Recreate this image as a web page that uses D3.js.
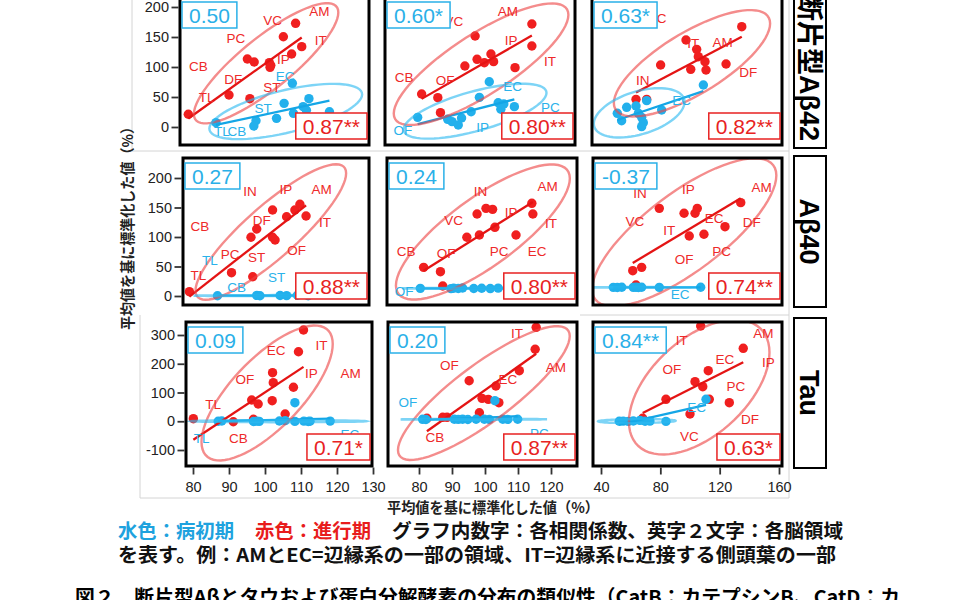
<!DOCTYPE html>
<html><head><meta charset="utf-8">
<script src="https://cdn.jsdelivr.net/npm/d3@7"></script>
<style>body{margin:0;background:#fff;} svg{display:block;}</style>
</head><body>
<script>
// ===================== DATA =====================
const rowNames = ["断片型Aβ42", "Aβ40", "Tau"];
const yTicks = [[0,50,100,150,200],[0,50,100,150,200],[-100,0,100,200,300]];
const xTicks = [[80,90,100,110,120,130],[80,90,100,110,120],[40,80,120,160]];
const xDomains = [[80,130],[80,120],[40,160]];
const yDomains = [[0,200],[0,200],[-100,300]];
// correlation coefficients (row-major): early = 病初期 (blue), late = 進行期 (red)
const corrEarly = ["0.50","0.60*","0.63*","0.27","0.24","-0.37","0.09","0.20","0.84**"];
const corrLate  = ["0.87**","0.80**","0.82**","0.88**","0.80**","0.74**","0.71*","0.87**","0.63*"];

// ---- Row 1: 断片型Aβ42 ----
const r1c1Late = [[78.7,21.2],[90.0,53.3],[95.8,47.2],[95.1,113.3],[97.0,108.3],[101.2,107.2],[101.4,99.4],[101.6,103],[105.1,150.5],[107.4,121.7],[108.5,172.8],[110.2,133.9]];
const r1c1LateLab = [["AM",115.1,192],["VC",102.1,177],["PC",91.9,146.7],["IT",115.5,145],["CB",81.5,100.5],["DF",91.2,80],["IP",105.1,111.7],["ST",101.9,66],["TL",83.8,48.9]];
const r1c1Early = [[86.4,7.2],[97.5,10.5],[96.9,1.7],[103.2,14.4],[105.3,39.4],[107.6,72.8],[107.9,22.8],[110.6,33.9],[112.2,47.2],[111.5,28],[117.9,25.5]];
const r1c1EarlyLab = [["EC",105.6,83.9],["ST",99.5,31.1],["TL",88.0,-7.8],["CB",92.2,-8.3]];

const r1c2Late = [[80.8,55],[85.7,48.9],[86.5,23.9],[93.9,101.7],[97.0,151.7],[97.6,112.8],[99.8,107.2],[101.8,121.7],[102.6,108.9],[109.1,98.9],[114.2,135],[114.2,171.7]];
const r1c2LateLab = [["AM",106.9,192.2],["IP",107.9,145],["IT",119.7,108.9],["CB",75.5,82.2],["OF",87.9,76.7],["VC",90.6,175.5]];
const r1c2Early = [[79.6,16.1],[88.7,12.8],[90.0,8.9],[91.9,3.3],[92.9,15],[95.8,25.5],[98.3,49.4],[101.3,75.5],[104.0,40.5],[104.8,29.5],[105.7,38.3],[108.9,33.9]];
const r1c2EarlyLab = [["OF",75.1,-6.2],["IP",99.3,-0.5],["EC",108.4,68.3],["PC",119.8,32.8]];

const r1c3Late = [[63.6,46.1],[70.8,46.1],[80.2,103.3],[97.3,145],[104.5,129.4],[105.6,117.2],[100.5,96.1],[110.1,108.9],[110.8,95],[124.3,105],[134.9,167.2]];
const r1c3LateLab = [["VC",77.8,181],["IT",102.2,139.5],["AM",122,140.5],["IN",68.1,78.3],["DF",139.3,90.5]];
const r1c3Early = [[51.0,22.8],[53.9,10.5],[57.3,32.8],[63.6,35],[65.2,22.8],[70.8,43.9],[67.4,16.1],[68.5,7.2],[67.4,0.6],[80.9,28.3],[109,70]];
const r1c3EarlyLab = [["EC",94.4,43.9]];

// ---- Row 2: Aβ40 ----
const r2c1Late = [[79.0,7.3],[90.7,39.5],[96.6,32.7],[96.1,99.5],[97.7,113.6],[102.1,145.8],[102.1,99.5],[102.8,94.9],[106.0,134.4],[108.3,145.8],[109.7,155.4],[111.4,135.6]];
const r2c1LateLab = [["IN",95.8,176.8],["IP",105.8,180.8],["AM",115.7,180.8],["CB",81.9,117.5],["DF",99.1,128.8],["IT",116.7,124.3],["PC",90.3,69.5],["ST",97.7,65.5],["OF",108.8,76.8],["TL",81.5,33.9]];
const r2c1Early = [[86.8,0.5],[97.7,1.0],[98.6,0.4],[104.2,0.9],[106.0,0.6],[109.0,1.2],[112.0,0.5]];
const r2c1EarlyLab = [["TL",84.7,61],["CB",92.1,14.1],["ST",103.2,31]];

const r2c2Late = [[81.4,48.6],[86.5,41.2],[87.2,16.9],[94.5,99.5],[97.6,139],[98.3,103.4],[100.3,148.6],[102.3,146.9],[103.0,116.4],[109.4,103.4],[114.2,157.1],[114.5,139]];
const r2c2LateLab = [["IN",98.6,176.8],["AM",119,186.4],["VC",90.5,127.6],["IP",107.9,141.2],["IT",120,123.2],["CB",76.1,75.1],["OF",88.2,72.3],["PC",104.3,75.1],["EC",115.8,75.1]];
const r2c2Early = [[80.4,13.0],[89.7,12.5],[90.5,13.2],[91.9,12.8],[93.2,13.5],[96.6,12.7],[99.0,13.1],[101.6,12.6],[104.0,13.3],[107.0,13.0],[110.0,12.8]];
const r2c2EarlyLab = [["OF",75.5,7.3]];

const r2c3Late = [[61.4,42.9],[67.4,48.6],[63.6,18.6],[79.3,148.6],[96,140.2],[103.4,140.2],[104.9,148.6],[99.5,101.7],[109.4,104.6],[123.6,117.5],[134.2,158.2]];
const r2c3LateLab = [["IN",66.3,174],["IP",98.9,180.8],["AM",148.3,184.2],["VC",62.9,126],["EC",116.2,131.7],["IT",86,110.2],["DF",141.6,124.3],["OF",96,62.2],["PC",121.4,75.1]];
const r2c3Early = [[48.3,14.7],[51.0,14.5],[54.0,14.9],[61.8,14.6],[63.6,14.8],[65.2,14.4],[67.4,14.9],[79.3,14.6],[107.2,14.8]];
const r2c3EarlyLab = [["EC",93.3,1.7]];

// ---- Row 3: Tau ----
const r3c1Late = [[80.1,8.9],[91.2,-1.6],[96.3,73.9],[96.8,6.8],[98.1,60],[102.1,168.9],[102.3,134.1],[102,71.5],[105.6,25.2],[107.9,118.1],[109.3,241.9],[110.7,317.4]];
const r3c1LateLab = [["IT",115.7,265.2],["EC",103.1,245.4],["OF",94.4,145.9],["IP",112.9,166.8],["AM",123.8,166.8],["TL",85.6,60],["CB",92.6,-59.5]];
const r3c1Early = [[87,0],[88,1],[96.8,-1],[97.7,0.5],[98.4,-0.5],[104,1],[105.6,2],[108.3,64.6],[108.3,-0.5],[110.8,0.5],[112,-1],[112.5,0],[118.1,0.5]];
const r3c1EarlyLab = [["TL",82.4,-59.5],["EC",123.6,-45]];

const r3c2Late = [[82.4,10.2],[87.2,13.7],[88.5,13.7],[95.2,141],[98.3,29.7],[99.1,79.7],[101,76.2],[103.3,122.6],[104.2,64.6],[110.4,175.9],[115.2,250.3],[115.5,326.7]];
const r3c2LateLab = [["IT",109.7,303.5],["OF",89.2,192.2],["AM",121.5,187.6],["EC",106.9,143.5],["CB",84.8,-55.9]];
const r3c2Early = [[81.1,6.7],[82.1,6.0],[90.7,7.0],[91.9,6.5],[93.2,7.2],[94.8,6.0],[97.3,6.8],[99.8,7.1],[101.3,6.3],[103.0,71.5],[105.4,6.9],[106.9,6.4],[109.9,7.0]];
const r3c2EarlyLab = [["OF",76.6,64.6],["PC",116.5,-42]];

const r3c3Late = [[68.1,10.2],[83.8,76.3],[100,25.2],[103.4,137.6],[108.6,120.2],[112.3,175.9],[113,76.3],[126.5,64.6],[135.9,253.7],[107.2,331.3]];
const r3c3LateLab = [["IT",94.4,280.2],["AM",149.4,303.5],["EC",123.6,215.3],["IP",152.8,203.7],["OF",87.7,178.3],["PC",131,120.2],["DF",140.5,6.7],["VC",99.5,-53.7]];
const r3c3Early = [[52.3,0],[55,0.5],[58.4,-0.5],[61.8,1],[66.3,3],[69.7,0],[73,0.5],[83.8,-0.5],[110.8,76.3]];
const r3c3EarlyLab = [["EC",104.5,48.5]];

const axisTitle = "平均値を基に標準化した値（%）";
const captionEarly = "水色：病初期";
const captionLate = "赤色：進行期";
const captionRest = "グラフ内数字：各相関係数、英字２文字：各脳領域";
const captionLine2 = "を表す。例：AMとEC=辺縁系の一部の領域、IT=辺縁系に近接する側頭葉の一部";
const figCaption = "図２　断片型Aβとタウおよび蛋白分解酵素の分布の類似性（CatB：カテプシンB、CatD：カ";

// ===================== LAYOUT =====================
const panels = [
  [{late:r1c1Late,lateLab:r1c1LateLab,early:r1c1Early,earlyLab:r1c1EarlyLab},
   {late:r1c2Late,lateLab:r1c2LateLab,early:r1c2Early,earlyLab:r1c2EarlyLab},
   {late:r1c3Late,lateLab:r1c3LateLab,early:r1c3Early,earlyLab:r1c3EarlyLab}],
  [{late:r2c1Late,lateLab:r2c1LateLab,early:r2c1Early,earlyLab:r2c1EarlyLab},
   {late:r2c2Late,lateLab:r2c2LateLab,early:r2c2Early,earlyLab:r2c2EarlyLab},
   {late:r2c3Late,lateLab:r2c3LateLab,early:r2c3Early,earlyLab:r2c3EarlyLab}],
  [{late:r3c1Late,lateLab:r3c1LateLab,early:r3c1Early,earlyLab:r3c1EarlyLab},
   {late:r3c2Late,lateLab:r3c2LateLab,early:r3c2Early,earlyLab:r3c2EarlyLab},
   {late:r3c3Late,lateLab:r3c3LateLab,early:r3c3Early,earlyLab:r3c3EarlyLab}]
];
const frames = [
  [[180,-3,369,145],[385,-3,575,145],[592,-3,782,145]],
  [[183,158,369,305],[387,158,577,305],[593,158,782,305]],
  [[186,322,372,466],[388,322,577,466],[593,322,782,466]]
];
const xRanges = [[193,373],[419,551],[601,779]];
const yRanges = [[127,7],[296,178],[450,335]];
const stripBoxes = [[-5,148],[156,307],[318,468]];

const FONT = "'Liberation Sans', Arial, Helvetica, sans-serif";
const JFONT = "'Noto Sans CJK JP', 'Noto Sans', sans-serif";
const C = {
  lateP:"#f01f1f", lateL:"#e41414", lateT:"#ee2a2a", lateE:"rgba(238,70,70,0.62)", lateBox:"#e82222",
  earlyP:"#22b0ec", earlyL:"#14a6e6", earlyT:"#2ab2ea", earlyE:"rgba(45,185,240,0.62)", earlyBox:"#2ab0e8"
};

const xScales = xDomains.map((d,i)=>d3.scaleLinear().domain(d).range(xRanges[i]));
const yScales = yDomains.map((d,i)=>d3.scaleLinear().domain(d).range(yRanges[i]));

// ===================== STATS =====================
function lmLine(pts){
  const mx=d3.mean(pts,d=>d[0]), my=d3.mean(pts,d=>d[1]);
  let sxy=0,sxx=0;
  pts.forEach(d=>{sxy+=(d[0]-mx)*(d[1]-my); sxx+=(d[0]-mx)*(d[0]-mx);});
  const b=sxy/sxx, a=my-b*mx;
  const [x0,x1]=d3.extent(pts,d=>d[0]);
  return [[x0,a+b*x0],[x1,a+b*x1]];
}
// robust multivariate t covariance (as MASS::cov.trob, used by ggplot2 stat_ellipse)
function covTrob(pts, nu=5, maxit=25, tol=0.01){
  const n=pts.length, p=2;
  let loc=[d3.mean(pts,d=>d[0]), d3.mean(pts,d=>d[1])];
  let w=pts.map(()=>1), X;
  for(let it=0; it<maxit; it++){
    const w0=w.slice();
    X=pts.map(d=>[d[0]-loc[0], d[1]-loc[1]]);
    const sw=d3.sum(w);
    let a=0,b=0,c=0;
    X.forEach((x,i)=>{const f=w[i]/sw; a+=f*x[0]*x[0]; b+=f*x[0]*x[1]; c+=f*x[1]*x[1];});
    const det=a*c-b*b;
    const Q=X.map(x=>(c*x[0]*x[0]-2*b*x[0]*x[1]+a*x[1]*x[1])/det);
    w=Q.map(q=>(nu+p)/(nu+q));
    const sw2=d3.sum(w);
    loc=[d3.sum(pts,(d,i)=>w[i]*d[0])/sw2, d3.sum(pts,(d,i)=>w[i]*d[1])/sw2];
    if(w.every((v,i)=>Math.abs(v-w0[i])<tol)) break;
  }
  let a=0,b=0,c=0;
  X.forEach((x,i)=>{a+=w[i]*x[0]*x[0]; b+=w[i]*x[0]*x[1]; c+=w[i]*x[1]*x[1];});
  return {center:loc, cov:[a/n,b/n,c/n]};
}
function ellipse(pts, level=0.95){
  const {center,cov}=covTrob(pts);
  const d=pts.length-1;
  const qf=(d/2)*(Math.pow(1-level,-2/d)-1);
  const r=Math.sqrt(2*qf);
  const [a,b,c]=cov;
  const R11=Math.sqrt(a), R12=b/R11, R22=Math.sqrt(Math.max(c-R12*R12,1e-12));
  return d3.range(0,73).map(i=>{const t=i/72*2*Math.PI;
    return [center[0]+r*Math.cos(t)*R11, center[1]+r*(Math.cos(t)*R12+Math.sin(t)*R22)];});
}

// ===================== DRAW =====================
const svg=d3.select("body").append("svg").attr("width",960).attr("height",600)
  .style("background","#fff");
const defs=svg.append("defs");

// faint figure-assembly borders
const grayLines=[[132,0,132,151],[132,151,789,151],[789,0,789,498],[140,315,140,498],[140,498,789,498],[580,315,789,315]];
svg.append("g").selectAll("line").data(grayLines).join("line")
  .attr("x1",d=>d[0]).attr("y1",d=>d[1]).attr("x2",d=>d[2]).attr("y2",d=>d[3])
  .attr("stroke","#d4d4d4").attr("stroke-width",1);

function corrBox(g, str, color, corner, f){
  const t=g.append("text").attr("font-family",FONT).attr("fill",color).attr("font-size",21).text(str);
  const tw=t.node().getComputedTextLength();
  const bw=tw+14, bh=26;
  const bx = corner==="tl" ? f[0]+2 : f[2]-2-bw;
  const by = corner==="tl" ? f[1]+5 : f[3]-6-bh;
  g.insert("rect","text").attr("x",bx).attr("y",by).attr("width",bw).attr("height",bh)
    .attr("fill","#fff").attr("stroke",color).attr("stroke-width",1.5);
  t.attr("x",bx+7).attr("y",by+20.5);
}

panels.forEach((row,ri)=>{
  row.forEach((p,ci)=>{
    const f=frames[ri][ci], xs=xScales[ci], ys=yScales[ri];
    const id=`clip${ri}${ci}`;
    defs.append("clipPath").attr("id",id).append("rect")
      .attr("x",f[0]).attr("y",f[1]).attr("width",f[2]-f[0]).attr("height",f[3]-f[1]);
    const g=svg.append("g");
    const inner=g.append("g").attr("clip-path",`url(#${id})`);
    const line=d3.line().x(d=>xs(d[0])).y(d=>ys(d[1]));
    const series=[{pts:p.late,lab:p.lateLab,k:"late"},{pts:p.early,lab:p.earlyLab,k:"early"}];
    series.forEach(s=>{
      inner.append("g").selectAll("circle").data(s.pts).join("circle")
        .attr("cx",d=>xs(d[0])).attr("cy",d=>ys(d[1])).attr("r",4.7)
        .attr("fill",C[s.k+"P"]);
    });
    series.forEach(s=>{
      inner.append("path").attr("d",line(lmLine(s.pts))).attr("fill","none")
        .attr("stroke",C[s.k+"L"]).attr("stroke-width",2.3);
    });
    series.forEach(s=>{
      inner.append("path").attr("d",line(ellipse(s.pts))+"Z").attr("fill","none")
        .attr("stroke",C[s.k+"E"]).attr("stroke-width",2.4);
    });
    series.forEach(s=>{
      inner.append("g").selectAll("text").data(s.lab).join("text")
        .attr("x",d=>xs(d[1])).attr("y",d=>ys(d[2])).attr("text-anchor","middle")
        .attr("dominant-baseline","central").attr("font-family",FONT).attr("font-size",13.5)
        .attr("fill",C[s.k+"T"]).text(d=>d[0]);
    });
    g.append("rect").attr("x",f[0]).attr("y",f[1]).attr("width",f[2]-f[0]).attr("height",f[3]-f[1])
      .attr("fill","none").attr("stroke","#000").attr("stroke-width",3);
    const idx=ri*3+ci;
    corrBox(g.append("g"), corrEarly[idx], C.earlyBox, "tl", f);
    corrBox(g.append("g"), corrLate[idx], C.lateBox, "br", f);

    if(ci===0){
      const ax=d3.axisLeft(ys).tickValues(yTicks[ri]).tickSize(7).tickPadding(2.5).tickFormat(d=>String(d));
      const ag=svg.append("g").attr("transform",`translate(${f[0]-1.5},0)`).call(ax);
      styleAxis(ag);
    }
    if(ri===2){
      const ax=d3.axisBottom(xs).tickValues(xTicks[ci]).tickSize(7).tickPadding(7).tickFormat(d=>String(d));
      const ag=svg.append("g").attr("transform",`translate(0,${f[3]+1.5})`).call(ax);
      styleAxis(ag);
    }
  });
});
function styleAxis(ag){
  ag.select(".domain").remove();
  ag.selectAll(".tick line").attr("stroke","#333").attr("stroke-width",1.8);
  ag.selectAll(".tick text").attr("fill","#222").attr("font-size",14.5).attr("font-family",FONT);
}

// strip labels
rowNames.forEach((name,ri)=>{
  const b=stripBoxes[ri];
  svg.append("rect").attr("x",794).attr("y",b[0]).attr("width",32).attr("height",b[1]-b[0])
    .attr("fill","#fff").attr("stroke","#000").attr("stroke-width",2);
  const cy = ri===0 ? 141 : (b[0]+b[1])/2;
  svg.append("text").attr("transform",`translate(800,${cy}) rotate(90)`)
    .attr("text-anchor", ri===0 ? "end" : "middle")
    .attr("font-family",`'Liberation Sans', Arial, ${JFONT}`).attr("font-weight","bold")
    .attr("font-size",27).attr("fill","#000").text(name);
});

// axis titles
svg.append("text").attr("transform","translate(133,225) rotate(-90)").attr("text-anchor","middle")
  .attr("font-family",JFONT).attr("font-weight","bold").attr("font-size",14.5).attr("fill","#222")
  .attr("textLength",210).attr("lengthAdjust","spacingAndGlyphs").text(axisTitle);
svg.append("text").attr("x",493).attr("y",513).attr("text-anchor","middle")
  .attr("font-family",JFONT).attr("font-weight","bold").attr("font-size",14.5).attr("fill","#222")
  .attr("textLength",212).attr("lengthAdjust","spacingAndGlyphs").text(axisTitle);

// captions
const cap=[[captionEarly,118,538,116,"#1ea2de"],[captionLate,255,538,116,"#e81c1c"],[captionRest,392,538,451,"#111"],[captionLine2,118,562,718,"#111"]];
cap.forEach(c=>{
  svg.append("text").attr("x",c[1]).attr("y",c[2]).attr("font-family",JFONT).attr("font-weight","bold")
    .attr("font-size",19).attr("fill",c[4]).attr("textLength",c[3]).attr("lengthAdjust","spacingAndGlyphs").text(c[0]);
});
svg.append("text").attr("x",75).attr("y",604).attr("font-family",JFONT).attr("font-weight","bold")
  .attr("font-size",19).attr("fill","#000").attr("textLength",825).attr("lengthAdjust","spacingAndGlyphs").text(figCaption);
</script>
</body></html>
